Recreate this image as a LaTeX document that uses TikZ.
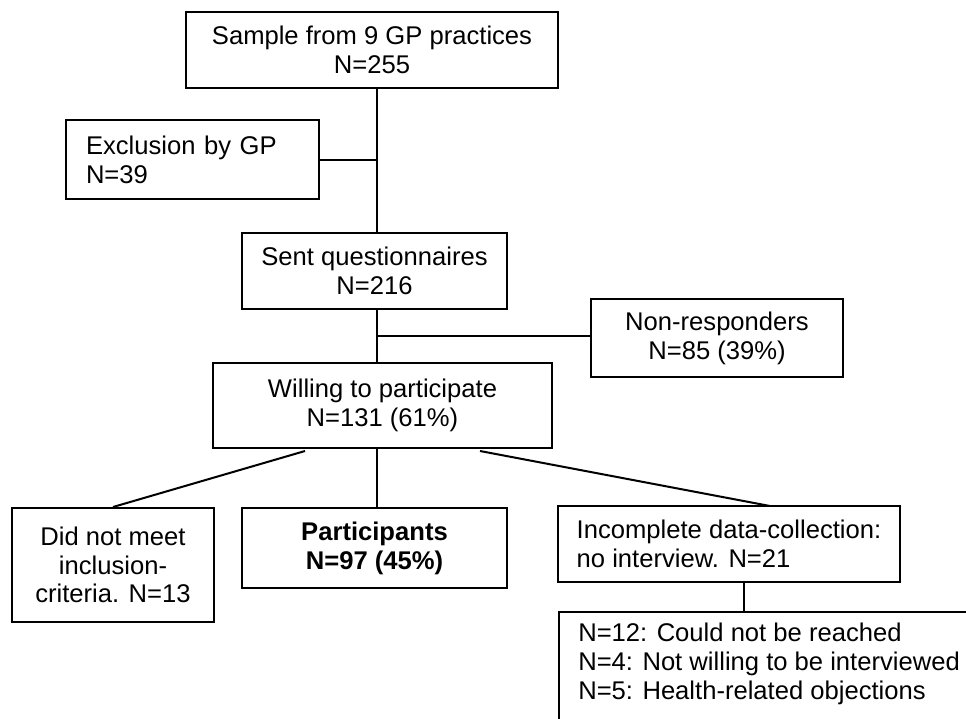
\documentclass[tikz,border=0pt]{standalone}
\usepackage{fontspec}
\setmainfont{Liberation Sans}
\usetikzlibrary{calc}
\begin{document}
\begin{tikzpicture}[x=0.75pt,y=-0.75pt,
  every node/.style={font=\fontsize{19.2pt}{21.6pt}\selectfont},
  box/.style={draw,line width=1.5pt,inner sep=0pt,align=center},
  lbox/.style={draw,line width=1.5pt,inner sep=0pt,align=left},
  conn/.style={line width=1.5pt}]
\useasboundingbox (0,0) rectangle (966,718);

\node[box,minimum width=372*0.75pt,minimum height=76*0.75pt] (sample) at (372,50) {Sample from 9 GP practices\\N=255};
\node[lbox,inner xsep=15pt,text width=213*0.75pt,minimum height=79*0.75pt] (excl) at (192.5,159.5) {Exclusion by GP\\N=39};
\node[box,minimum width=265*0.75pt,minimum height=76*0.75pt] (sent) at (374.5,271) {Sent questionnaires\\N=216};
\node[box,minimum width=252*0.75pt,minimum height=78*0.75pt] (nonresp) at (717,338) {Non-responders\\N=85 (39\%)};
\node[box,minimum width=339*0.75pt,minimum height=85*0.75pt] (will) at (382.5,405.5) {Willing to participate\\N=131 (61\%)};
\node[box,minimum width=202*0.75pt,minimum height=114*0.75pt] (didnot) at (113,565) {Did not meet\\inclusion-\\criteria. N=13};
\node[box,minimum width=265*0.75pt,minimum height=80*0.75pt,font=\fontsize{19.2pt}{21.6pt}\selectfont\bfseries] (part) at (374.5,548) {Participants\\N=97 (45\%)};
\node[lbox,minimum width=342*0.75pt,minimum height=76*0.75pt] (incomp) at (729,544) {Incomplete data-collection:\\no interview. N=21};
\node[draw,line width=1.5pt,inner sep=0pt,anchor=north west,minimum width=430*0.75pt,minimum height=130*0.75pt] (detail) at (558,611) {};
\node[anchor=base west,align=left,inner sep=0pt] (detailtext) at (578,699) {N=12: Could not be reached\\N=4: Not willing to be interviewed\\N=5: Health-related objections};

\coordinate (spine) at (377,0);
\coordinate (dl) at (305,451);
\coordinate (dr) at (480,451);
\coordinate (ir) at (770,506);
\coordinate (dx) at (744,0);

\draw[conn] (sample.south -| spine) -- (sent.north -| spine);
\draw[conn] (excl.east) -- (excl.east -| spine);
\draw[conn] (sent.south -| spine) -- (will.north -| spine);
\draw[conn] ($(nonresp.west)+(0,-2)$) -- ($(nonresp.west -| spine)+(0,-2)$);
\draw[conn] (will.south -| spine) -- (part.north -| spine);
\draw[conn] (dl) -- (didnot.north);
\draw[conn] (dr) -- (ir);
\draw[conn] (incomp.south -| dx) -- (detail.north -| dx);
\end{tikzpicture}
\end{document}
